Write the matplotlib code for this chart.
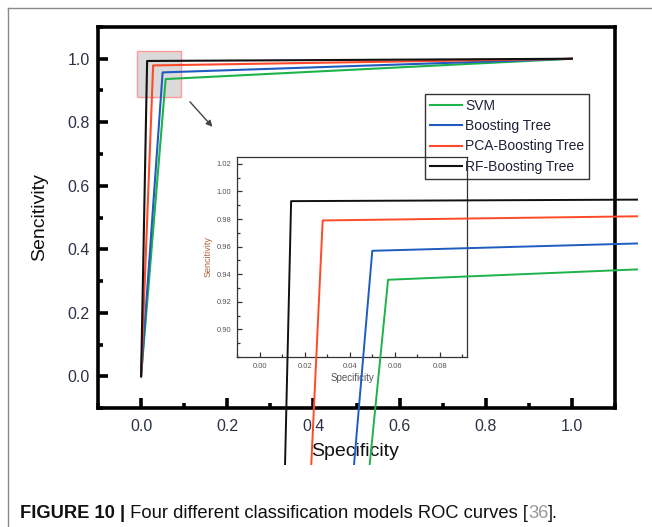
import matplotlib
matplotlib.use("Agg")
import matplotlib.pyplot as plt
from matplotlib.patches import Rectangle
from matplotlib.lines import Line2D
from matplotlib.ticker import MultipleLocator, FormatStrFormatter
from matplotlib.transforms import Bbox, TransformedBbox

plt.rcParams['font.family'] = ['Liberation Sans', 'DejaVu Sans']

# ---- data ----
models = ["SVM", "Boosting Tree", "PCA-Boosting Tree", "RF-Boosting Tree"]
colors = ["#1db34a", "#1f5cbf", "#ff4a2a", "#111111"]
knee_fpr = [0.057, 0.050, 0.028, 0.014]
knee_tpr = [0.936, 0.957, 0.979, 0.993]
start_pt = [0.0, 0.0]
end_pt = [1.0, 1.0]
main_xticks = [0.0, 0.2, 0.4, 0.6, 0.8, 1.0]
main_yticks = [0.0, 0.2, 0.4, 0.6, 0.8, 1.0]
inset_xticks = [0.00, 0.02, 0.04, 0.06, 0.08]
inset_yticks = [0.90, 0.92, 0.94, 0.96, 0.98, 1.00, 1.02]
zoom_box_x = [-0.01, 0.092]
zoom_box_y = [0.88, 1.025]

W, H = 652, 527
fig = plt.figure(figsize=(W / 100, H / 100), dpi=100)

# outer gray frame of the screenshot
fig.add_artist(Line2D([8 / W, 8 / W], [0, 1 - 8 / H], transform=fig.transFigure, color="#8a8a8a", lw=1))
fig.add_artist(Line2D([8 / W, 1], [1 - 8 / H, 1 - 8 / H], transform=fig.transFigure, color="#8a8a8a", lw=1))

# ---- main axes ----
ax = fig.add_axes([98 / W, 1 - 408 / H, (615 - 98) / W, (408 - 27) / H])
for i, m in enumerate(models):
    xs = [start_pt[0], knee_fpr[i], end_pt[0]]
    ys = [start_pt[1], knee_tpr[i], end_pt[1]]
    ax.plot(xs, ys, color=colors[i], lw=1.5, label=m, zorder=3)

ax.set_xlim(-0.1, 1.1)
ax.set_ylim(-0.1, 1.1)
ax.set_xticks(main_xticks)
ax.set_yticks(main_yticks)
ax.xaxis.set_minor_locator(MultipleLocator(0.1))
ax.yaxis.set_minor_locator(MultipleLocator(0.1))
ax.xaxis.set_major_formatter(FormatStrFormatter("%.1f"))
ax.yaxis.set_major_formatter(FormatStrFormatter("%.1f"))
for s in ax.spines.values():
    s.set_linewidth(2.6)
ax.tick_params(which="major", direction="in", length=7, width=2.6, labelsize=11.5,
               labelcolor="#2b3245", pad=6)
ax.tick_params(which="minor", direction="in", length=3.5, width=2.6)
ax.tick_params(axis="y", pad=6)
ax.tick_params(axis="x", pad=8)

ax.set_xlabel("Specificity", fontsize=14, color="#111111")
ax.xaxis.set_label_coords(0.497, -0.115)
ax.xaxis.label.set_va("center")
ax.set_ylabel("Sencitivity", fontsize=14, color="#111111")
ax.yaxis.set_label_coords(-0.112, 0.5)
ax.yaxis.label.set_va("center")

# highlighted zoom region
ax.add_patch(Rectangle((zoom_box_x[0], zoom_box_y[0]), zoom_box_x[1] - zoom_box_x[0],
                       zoom_box_y[1] - zoom_box_y[0], facecolor="#dadada", edgecolor="#ff9a9a",
                       lw=1.0, zorder=2))
ax.annotate("", xy=(0.170, 0.779), xytext=(0.109, 0.871),
            arrowprops=dict(arrowstyle="-|>", color="#444444", lw=1.0, mutation_scale=9))

leg = ax.legend(loc="upper left", bbox_to_anchor=(0.632, 0.824), fontsize=10,
                frameon=True, fancybox=False, edgecolor="#333333", framealpha=1,
                handlelength=2.3, handletextpad=0.25, labelspacing=0.45, borderpad=0.35,
                borderaxespad=0)
leg.get_frame().set_linewidth(1.0)
for t in leg.get_texts():
    t.set_color("#1c2236")

# ---- inset axes ----
axi = fig.add_axes([237 / W, 1 - 357 / H, (467 - 237) / W, (357 - 157) / H])
axi.set_facecolor("none")
clip_bbox = TransformedBbox(Bbox([[0, 1 - 465 / H], [638 / W, 1]]), fig.transFigure)
for i, m in enumerate(models):
    xs = [start_pt[0], knee_fpr[i], end_pt[0]]
    ys = [start_pt[1], knee_tpr[i], end_pt[1]]
    ln, = axi.plot(xs, ys, color=colors[i], lw=1.4, zorder=5)
    ln.set_clip_box(clip_bbox)
axi.set_xlim(zoom_box_x)
axi.set_ylim(zoom_box_y)
axi.set_xticks(inset_xticks)
axi.set_yticks(inset_yticks)
axi.xaxis.set_minor_locator(MultipleLocator(0.01))
axi.yaxis.set_minor_locator(MultipleLocator(0.01))
axi.xaxis.set_major_formatter(FormatStrFormatter("%.2f"))
axi.yaxis.set_major_formatter(FormatStrFormatter("%.2f"))
for s in axi.spines.values():
    s.set_linewidth(0.9)
    s.set_color("#333333")
axi.tick_params(which="major", direction="in", length=3.5, width=0.9, labelsize=5.5,
                labelcolor="#555555", color="#333333", pad=4)
axi.tick_params(which="minor", direction="in", length=2, width=0.9, color="#333333")
axi.set_xlabel("Specificity", fontsize=7, color="#555555")
axi.xaxis.set_label_coords(0.5, -0.105)
axi.xaxis.label.set_va("center")
axi.set_ylabel("Sencitivity", fontsize=6.5, color="#b0603a")
axi.yaxis.set_label_coords(-0.125, 0.5)
axi.yaxis.label.set_va("center")

# ---- caption ----
cap_font = ['Liberation Sans', 'DejaVu Sans']
cap_y = 1 - 513 / H
t1 = fig.text(20 / W, cap_y, "FIGURE 10 |", fontsize=13.2, fontweight="bold",
              family=cap_font, va="center", color="#111111")
fig.canvas.draw()
r = fig.canvas.get_renderer()
bb1 = t1.get_window_extent(r)
t2 = fig.text(bb1.x1 / W, cap_y, " Four different classification models ROC curves [", fontsize=13.2,
              family=cap_font, va="center", color="#111111")
fig.canvas.draw()
bb2 = t2.get_window_extent(r)
t3 = fig.text(bb2.x1 / W, cap_y, "36", fontsize=13.2, family=cap_font, va="center", color="#9a9a9a")
fig.canvas.draw()
bb3 = t3.get_window_extent(r)
fig.text(bb3.x1 / W, cap_y, "].", fontsize=13.2, family=cap_font, va="center", color="#111111")

fig.savefig("out.png", dpi=100)
